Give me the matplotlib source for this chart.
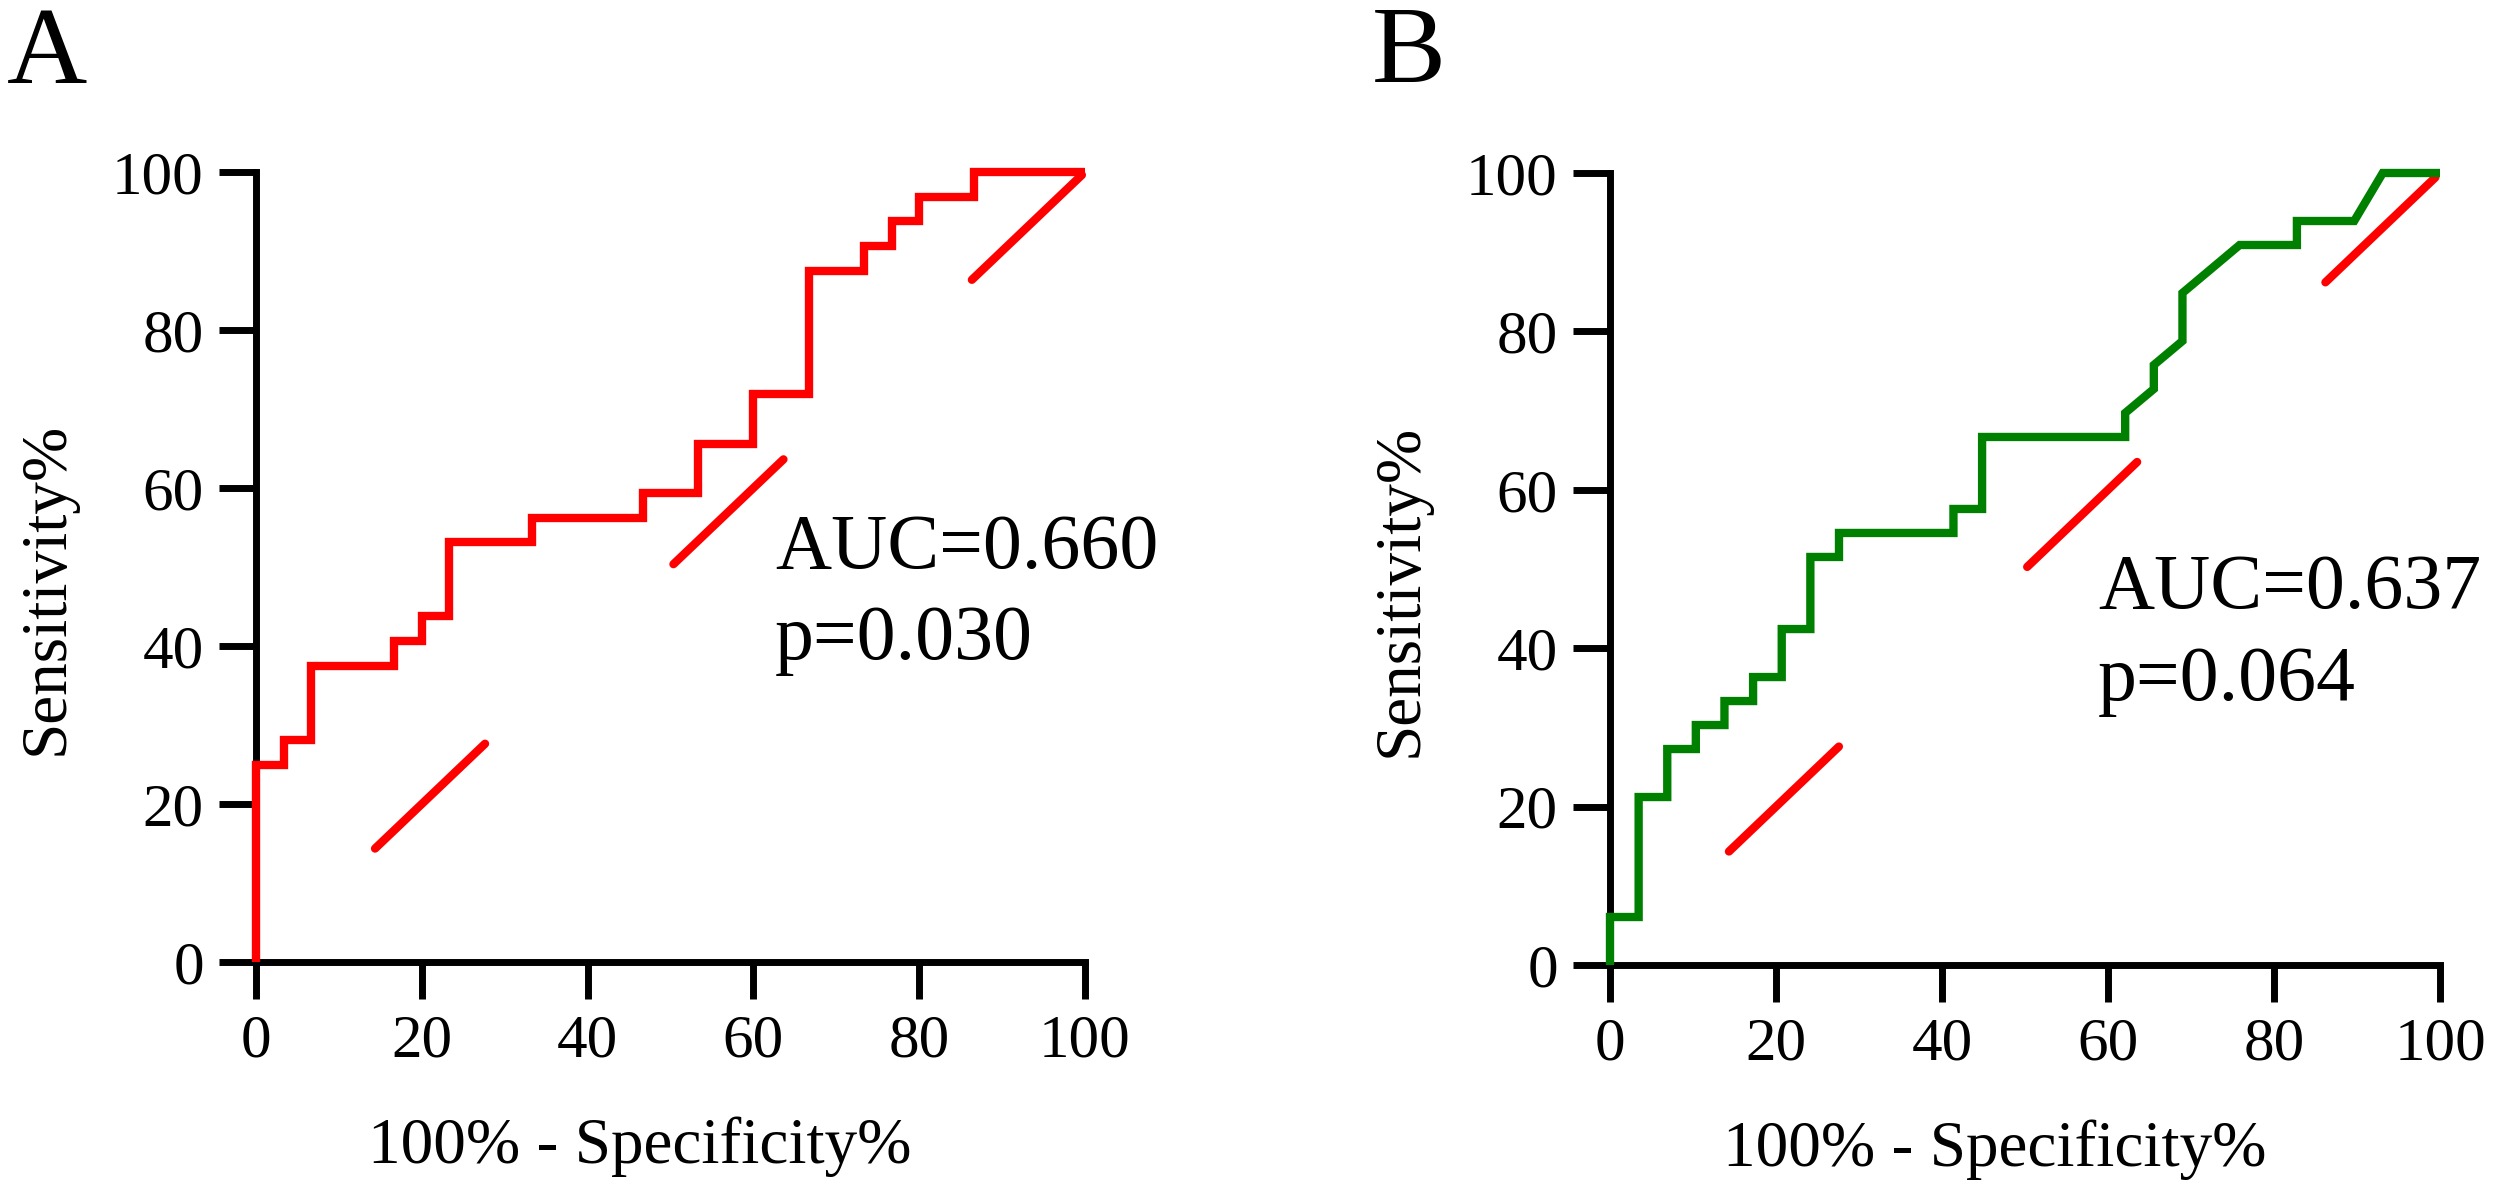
import numpy as np
import matplotlib
matplotlib.use("Agg")
import matplotlib.pyplot as plt

plt.rcParams['font.family'] = ['Liberation Serif', 'DejaVu Serif']
plt.rcParams['lines.scale_dashes'] = False

# ROC vertices (100% - specificity %, sensitivity %)
fpr_a = [0, 0, 3.33, 3.33, 6.67, 6.67, 16.67, 16.67, 20, 20, 23.33, 23.33,
         33.33, 33.33, 46.67, 46.67, 53.33, 53.33, 60, 60, 66.67, 66.67,
         73.33, 73.33, 76.67, 76.67, 80, 80, 86.67, 86.67, 100]
tpr_a = [0, 25, 25, 28.13, 28.13, 37.5, 37.5, 40.63, 40.63, 43.75, 43.75,
         53.13, 53.13, 56.25, 56.25, 59.38, 59.38, 65.63, 65.63, 71.88, 71.88,
         87.5, 87.5, 90.63, 90.63, 93.75, 93.75, 96.88, 96.88, 100, 100]

fpr_b = [0, 0, 3.45, 3.45, 6.9, 6.9, 10.34, 10.34, 13.79, 13.79, 17.24, 17.24,
         20.69, 20.69, 24.14, 24.14, 27.59, 27.59, 41.38, 41.38, 44.83, 44.83,
         62.07, 62.07, 65.52, 65.52, 68.97, 68.97, 75.86, 82.76, 82.76, 89.66,
         93.1, 100]
tpr_b = [0, 6.06, 6.06, 21.21, 21.21, 27.27, 27.27, 30.3, 30.3, 33.33, 33.33,
         36.36, 36.36, 42.42, 42.42, 51.52, 51.52, 54.55, 54.55, 57.58, 57.58,
         66.67, 66.67, 69.7, 72.73, 75.76, 78.79, 84.85, 90.91, 90.91, 93.94,
         93.94, 100, 100]

ticks = [0, 20, 40, 60, 80, 100]
auc_labels = ["AUC=0.660", "AUC=0.637"]
p_labels = ["p=0.030", "p=0.064"]
panel_labels = ["A", "B"]


def draw_roc(ax, fpr, tpr, color, auc_txt, p_txt, txt_x, txt_y):
    # reference diagonal, long dashes with round ends (starts with a gap)
    ax.plot([0, 100], [0, 100], color='#ff0000', lw=6,
            linestyle=(178.4, (109.4, 187.4)), dash_capstyle='round',
            zorder=2, clip_on=False)
    ax.plot(fpr, tpr, color=color, lw=6, solid_joinstyle='miter',
            solid_capstyle='butt', zorder=3, clip_on=False)

    ax.set_xlim(0, 100)
    ax.set_ylim(0, 100)
    ax.set_xticks(ticks)
    ax.set_yticks(ticks)
    for side in ['top', 'right']:
        ax.spines[side].set_visible(False)
    for side in ['left', 'bottom']:
        ax.spines[side].set_linewidth(5)
    ax.tick_params(direction='out', length=26.6, width=5, pad=11, labelsize=44)

    ax.set_xlabel("100% - Specificity%", fontsize=47)
    ax.xaxis.label.set_va('baseline')
    ax.xaxis.set_label_coords(0.463, -0.254)
    ax.set_ylabel("Sensitivity%", fontsize=47)
    ax.yaxis.label.set_va('baseline')
    ax.yaxis.set_label_coords(-0.233, 0.473)

    ax.text(txt_x, txt_y, auc_txt, fontsize=56, va='baseline')
    ax.text(txt_x, txt_y - 11.6, p_txt, fontsize=56, va='baseline')


fig = plt.figure(figsize=(25.08, 11.89), dpi=100)
ax_a = fig.add_axes([256 / 2508, 1 - 962 / 1189, 829 / 2508, 790 / 1189])
ax_b = fig.add_axes([1610 / 2508, 1 - 965 / 1189, 830 / 2508, 792 / 1189])

draw_roc(ax_a, fpr_a, tpr_a, '#ff0000', auc_labels[0], p_labels[0], 62.6, 49.9)
draw_roc(ax_b, fpr_b, tpr_b, '#008000', auc_labels[1], p_labels[1], 58.8, 45.1)

fig.text(7 / 2508, 1 - 83 / 1189, panel_labels[0], fontsize=80, va='baseline')
fig.text(1372 / 2508, 1 - 82 / 1189, panel_labels[1], fontsize=80, va='baseline')

fig.savefig("out.png", dpi=100, facecolor='white')
